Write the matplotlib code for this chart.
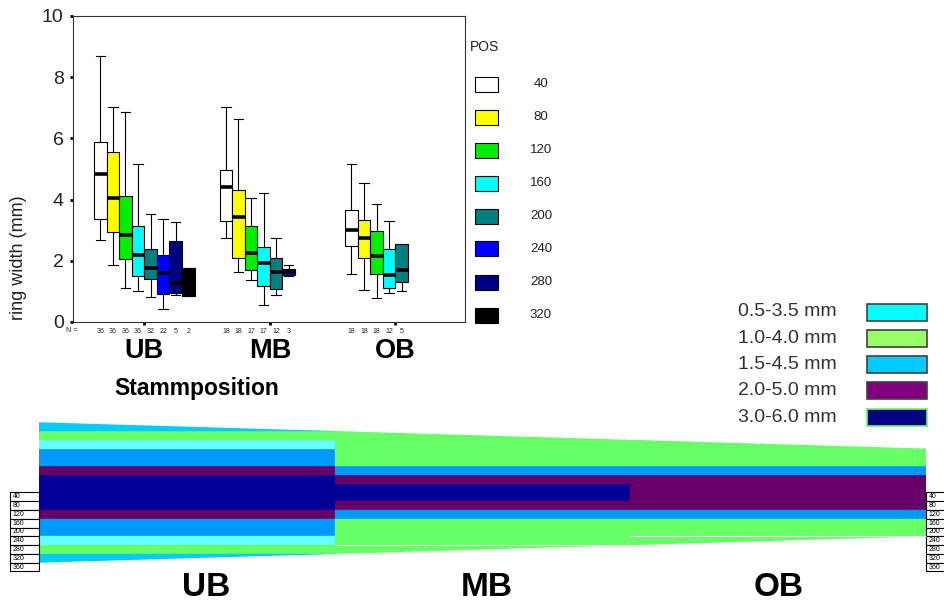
import matplotlib
matplotlib.use("Agg")
from matplotlib import pyplot as plt
from matplotlib.patches import Rectangle, Polygon

plt.rcParams["font.family"] = ["Liberation Sans", "DejaVu Sans"]

W, H = 944, 602

# ---- boxplot data -------------------------------------------------------
groups = ["UB", "MB", "OB"]
pos_labels = ["40", "80", "120", "160", "200", "240", "280", "320"]
pos_colors = ["#ffffff", "#ffff00", "#00ee00", "#00ffff", "#008080", "#0000ff", "#000080", "#000000"]

# (whisker low, Q1, median, Q3, whisker high) per position
ub_stats = [(2.69, 3.36, 4.83, 5.89, 8.69),
            (1.85, 2.94, 4.06, 5.56, 7.03),
            (1.11, 2.05, 2.84, 4.12, 6.85),
            (1.00, 1.50, 2.20, 3.14, 5.16),
            (0.82, 1.42, 1.77, 2.40, 3.54),
            (0.41, 0.93, 1.60, 2.20, 3.38),
            (0.87, 0.95, 1.29, 2.65, 3.27),
            (0.85, 0.85, 1.30, 1.78, 1.78)]
mb_stats = [(2.73, 3.30, 4.42, 4.98, 7.03),
            (1.64, 2.10, 3.44, 4.33, 6.65),
            (1.36, 1.71, 2.27, 3.14, 4.06),
            (0.57, 1.18, 1.94, 2.45, 4.23),
            (0.87, 1.07, 1.64, 2.09, 2.75),
            (1.50, 1.55, 1.64, 1.74, 1.85)]
ob_stats = [(1.58, 2.48, 3.02, 3.65, 5.15),
            (1.04, 2.09, 2.73, 3.33, 4.53),
            (0.79, 1.58, 2.15, 2.97, 3.87),
            (0.96, 1.11, 1.55, 2.40, 3.30),
            (1.00, 1.31, 1.71, 2.56, 2.56)]
ub_n = [36, 36, 36, 36, 32, 22, 5, 2]
mb_n = [18, 18, 17, 17, 12, 3]
ob_n = [18, 18, 18, 12, 5]

# ---- stem scheme data ---------------------------------------------------
class_labels = ["0.5-3.5 mm", "1.0-4.0 mm", "1.5-4.5 mm", "2.0-5.0 mm", "3.0-6.0 mm"]
class_colors = ["#00ffff", "#99ff66", "#00ccff", "#800080", "#000080"]
class_edges = ["#404040", "#404040", "#404040", "#404040", "#66ff66"]
stem_radius = [320, 280, 240, 200]  # at UB start, UB/MB, MB/OB, OB end
ub_bands = [(0, 80, "#000099"), (80, 120, "#660066"), (120, 200, "#0099ff"),
            (200, 240, "#66ffff"), (240, 280, "#66ff66"), (280, 320, "#00ccff")]
mb_bands = [(0, 40, "#000099"), (40, 80, "#660066"), (80, 120, "#0099ff"), (120, 280, "#66ff66")]
ob_bands = [(0, 80, "#660066"), (80, 120, "#0099ff"), (120, 240, "#66ff66")]
table_labels = ["40", "80", "120", "160", "200", "240", "280", "320", "360"]
section_label_x = [0.565, 1.515, 2.50]


def fx(px):
    return px / W


def fy(py):
    return 1 - py / H


fig = plt.figure(figsize=(W / 100, H / 100), dpi=100)

# ---- top: boxplots ------------------------------------------------------
ax = fig.add_axes([fx(72.7), fy(322), (465 - 72.7) / W, (322 - 16) / H])
slot = 0.1
stats, positions, colors = [], [], []
n_pos = []
for gi, (gstats, gn) in enumerate(zip([ub_stats, mb_stats, ob_stats], [ub_n, mb_n, ob_n])):
    for i, (lo, q1, med, q3, hi) in enumerate(gstats):
        x = gi + 1 + (i - 3.5) * slot
        stats.append(dict(whislo=lo, q1=q1, med=med, q3=q3, whishi=hi, fliers=[]))
        positions.append(x)
        colors.append(pos_colors[i])
        n_pos.append((x, gn[i]))

bp = ax.bxp(stats, positions=positions, widths=slot, capwidths=0.075,
            patch_artist=True, showfliers=False,
            boxprops=dict(edgecolor="black", linewidth=0.8),
            medianprops=dict(color="black", linewidth=2.6),
            whiskerprops=dict(color="black", linewidth=0.8),
            capprops=dict(color="black", linewidth=0.8))
for patch, c in zip(bp["boxes"], colors):
    patch.set_facecolor(c)

ax.set_xlim(0.4295, 3.555)
ax.set_ylim(0, 10)
ax.set_yticks([0, 2, 4, 6, 8, 10])
ax.set_xticks([1, 2, 3])
ax.set_xticklabels(groups, fontsize=19.5, fontweight="bold")
ax.tick_params(axis="y", direction="out", length=2.5, width=2, labelsize=14, pad=4, labelcolor="#222222")
ax.tick_params(axis="x", direction="out", length=2.5, width=2, pad=9)
for s in ax.spines.values():
    s.set_linewidth(0.8)
    s.set_color("#333333")

for x, n in n_pos:
    ax.text(x, -0.03, str(n), transform=ax.get_xaxis_transform(), ha="center", va="center",
            fontsize=5, color="#222222")
fig.text(fx(66), fy(331), "N =", ha="left", va="center", fontsize=5, color="#222222")

fig.text(fx(19), fy(258), "ring width (mm)", rotation=90, ha="center", va="center",
         fontsize=13, color="#222222")
fig.text(fx(197), fy(388), "Stammposition", ha="center", va="center", fontsize=16.5, fontweight="bold")

# POS legend
fig.text(fx(470), fy(47), "POS", ha="left", va="center", fontsize=10, color="#222222")
for k, (lab, c) in enumerate(zip(pos_labels, pos_colors)):
    py = 84 + 33 * k
    fig.add_artist(Rectangle((fx(475), fy(py + 7.5)), 23 / W, 15 / H, facecolor=c,
                             edgecolor="black", linewidth=0.8, transform=fig.transFigure))
    fig.text(fx(541), fy(py), lab, ha="center", va="center", fontsize=9.5, color="#222222")

# ---- bottom: stem scheme ------------------------------------------------
ax2 = fig.add_axes([0, 0, 1, 192 / H])
ax2.set_xlim(-0.1319, 3.0605)
ax2.set_ylim(-499.1, 376.0)
ax2.axis("off")

outline = [(0, stem_radius[0]), (3, stem_radius[3]), (3, -stem_radius[3]), (0, -stem_radius[0])]
clip = Polygon(outline, closed=True, transform=ax2.transData)
for si, bands in enumerate([ub_bands, mb_bands, ob_bands]):
    for lo, hi, c in bands:
        if hi == bands[-1][1]:
            hi = stem_radius[si]
        for y0 in (lo, -hi):
            r = Rectangle((si, y0), 1, hi - lo, facecolor=c, edgecolor=c, linewidth=0.3)
            ax2.add_patch(r)
            r.set_clip_path(clip)
for si in (1, 2):
    ax2.hlines(-stem_radius[si + 1], si, si + 1, color="white", linewidth=0.8)

# position tables on both ends
tw = 0.098
for x0 in (-tw, 3):
    for k, lab in enumerate(table_labels):
        ax2.add_patch(Rectangle((x0, -(k + 1) * 40), tw, 40, facecolor="white",
                                edgecolor="black", linewidth=0.8, clip_on=False))
        ax2.text(x0 + 0.008, -(k + 0.5) * 40, lab, ha="left", va="center", fontsize=5, clip_on=False)

for x, name in zip(section_label_x, groups):
    ax2.text(x, -435, name, ha="center", va="center", fontsize=24, fontweight="bold")

# class legend
for k, (lab, c, ec) in enumerate(zip(class_labels, class_colors, class_edges)):
    py = 312 + 26.3 * k
    fig.text(fx(837), fy(py), lab, ha="right", va="center", fontsize=14, color="#333333")
    fig.add_artist(Rectangle((fx(867), fy(py + 8.5)), 60 / W, 17 / H, facecolor=c,
                             edgecolor=ec, linewidth=1.2, transform=fig.transFigure))

plt.savefig("out.png", dpi=100)
